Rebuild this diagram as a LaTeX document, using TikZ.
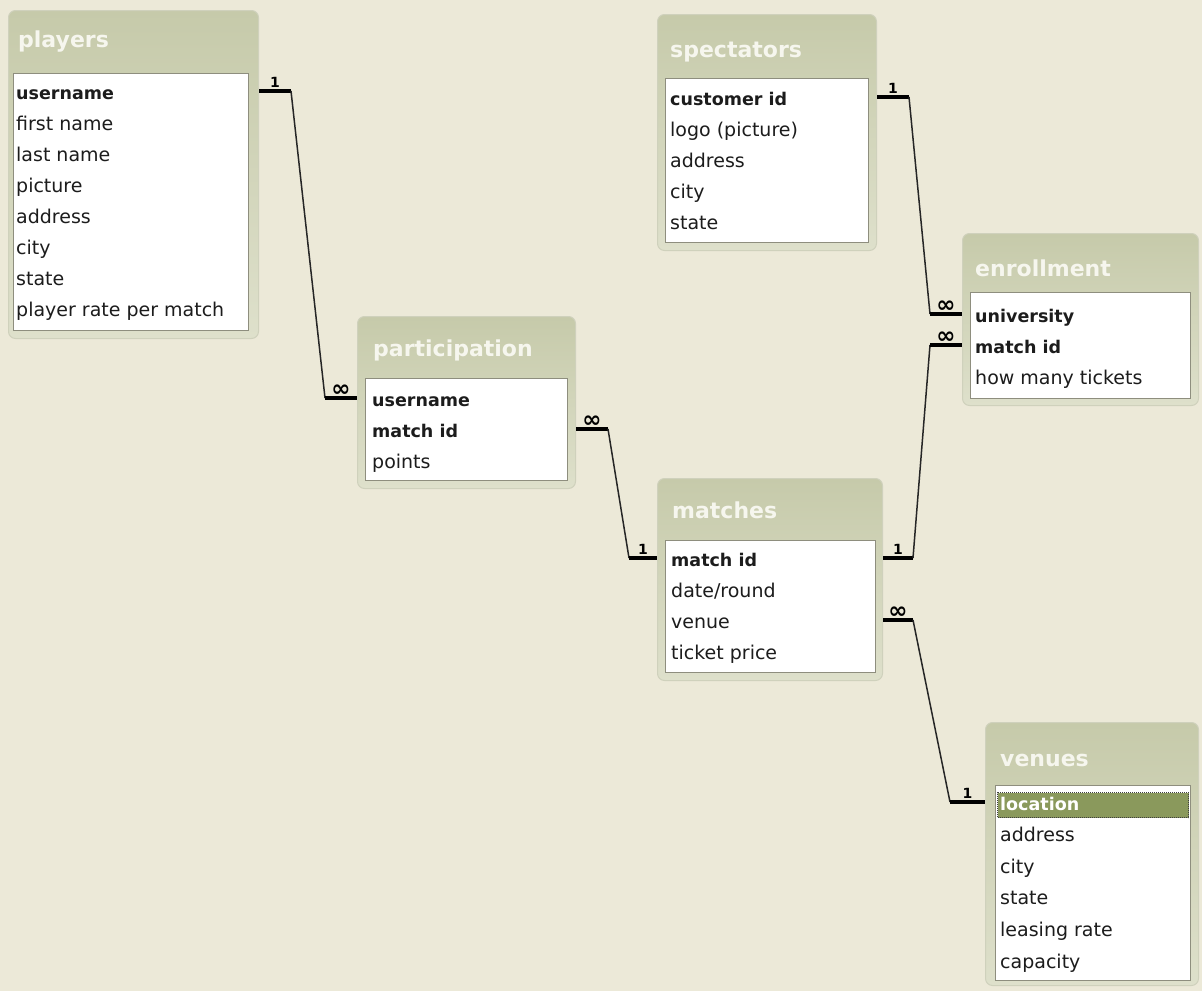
\documentclass[tikz,border=0pt]{standalone}
\usepackage{fontspec}
\setmainfont{DejaVu Sans}
\usepackage{tikz}
\usetikzlibrary{calc}
\usetikzlibrary{positioning}

\definecolor{desk}{HTML}{ECE9D8}
\definecolor{frametop}{HTML}{C6CAAA}
\definecolor{framebot}{HTML}{DEE0CB}
\definecolor{framerim}{HTML}{CFD1BC}
\definecolor{bodyrim}{HTML}{8E8E7E}
\definecolor{titletext}{HTML}{F6F6EE}
\definecolor{fieldtext}{HTML}{1C1C1C}
\definecolor{hilite}{HTML}{8A995C}

\begin{document}
\begin{tikzpicture}[
    x = 1pt, y = -1pt,
    tblframe/.style = {
      draw=framerim, line width=1pt, rounded corners=7pt,
      top color=frametop, bottom color=framebot,
      inner sep=0pt, anchor=north west,
    },
    tblbody/.style = {
      fill=white, draw=bodyrim, line width=1.2pt,
      inner sep=0pt, anchor=north west,
    },
    tbltitle/.style = {
      anchor=west, inner sep=0pt, text=titletext,
      font=\fontsize{22}{24}\selectfont\bfseries,
    },
    fld/.style = {
      anchor=west, inner sep=0pt, text=fieldtext,
      text height=14pt, text depth=4pt,
      font=\fontsize{19}{22}\selectfont,
    },
    keyfld/.style = {fld, font=\fontsize{17.5}{22}\selectfont\bfseries},
    selfld/.style = {keyfld, text=white},
    selbox/.style = {
      fill=hilite, draw=black!75, densely dotted, line width=1pt,
      inner sep=0pt, anchor=north west,
    },
    stub/.style = {line width=3.6pt, black},
    link/.style = {line width=1.5pt, black!85},
    one/.style = {above, inner sep=1.5pt, font=\fontsize{14}{14}\selectfont\bfseries},
    many/.style = {above, inner sep=0pt, font=\fontsize{23}{23}\selectfont\bfseries},
  ]

  % desktop
  \fill[desk] (0,0) rectangle (1202,991);

  % players
  \node[tblframe, minimum width=250pt, minimum height=328pt] (players) at (8,10) {};
  \node[tbltitle] (players-title) at (18,42) {players};
  \node[tblbody, minimum width=235pt, minimum height=257pt] (players-body) at (13,73) {};
  \node[keyfld] (players-1) at (16,94) {username};
  \foreach \f [count=\i from 2] in {first name, last name, picture, address,
      city, state, player rate per match}
    \node[fld] (players-\i) at (16,{94+31*(\i-1)}) {\f};

  % spectators
  \node[tblframe, minimum width=219pt, minimum height=236pt] (spectators) at (657,14) {};
  \node[tbltitle] (spectators-title) at (670,52) {spectators};
  \node[tblbody, minimum width=203pt, minimum height=164pt] (spectators-body) at (665,78) {};
  \node[keyfld] (spectators-1) at (670,100) {customer id};
  \foreach \f [count=\i from 2] in {logo (picture), address, city, state}
    \node[fld] (spectators-\i) at (670,{100+31*(\i-1)}) {\f};

  % enrollment
  \node[tblframe, minimum width=236pt, minimum height=172pt] (enrollment) at (962,233) {};
  \node[tbltitle] (enrollment-title) at (975,268) {enrollment};
  \node[tblbody, minimum width=220pt, minimum height=106pt] (enrollment-body) at (970,292) {};
  \node[keyfld] (enrollment-1) at (975,317) {university};
  \node[keyfld] (enrollment-2) at (975,348) {match id};
  \node[fld] (enrollment-3) at (975,379) {how many tickets};

  % participation
  \node[tblframe, minimum width=218pt, minimum height=172pt] (participation) at (357,316) {};
  \node[tbltitle] (participation-title) at (373,350) {participation};
  \node[tblbody, minimum width=202pt, minimum height=102pt] (participation-body) at (365,378) {};
  \node[keyfld] (participation-1) at (372,401) {username};
  \node[keyfld] (participation-2) at (372,432) {match id};
  \node[fld] (participation-3) at (372,463) {points};

  % matches
  \node[tblframe, minimum width=225pt, minimum height=202pt] (matches) at (657,478) {};
  \node[tbltitle] (matches-title) at (672,510) {matches};
  \node[tblbody, minimum width=210pt, minimum height=132pt] (matches-body) at (665,540) {};
  \node[keyfld] (matches-1) at (671,561) {match id};
  \foreach \f [count=\i from 2] in {date/round, venue, ticket price}
    \node[fld] (matches-\i) at (671,{561+31*(\i-1)}) {\f};

  % venues
  \node[tblframe, minimum width=213pt, minimum height=263pt] (venues) at (985,722) {};
  \node[tbltitle] (venues-title) at (1000,760) {venues};
  \node[tblbody, minimum width=195pt, minimum height=195pt] (venues-body) at (995,785) {};
  \node[selbox, minimum width=191pt, minimum height=25pt] (venues-sel) at (997,792) {};
  \node[selfld] (venues-1) at (1000,805) {location};
  \foreach \f [count=\i from 2] in {address, city, state, leasing rate, capacity}
    \node[fld] (venues-\i) at (1000,{805+31.6*(\i-1)}) {\f};

  % relationships
  \coordinate (r1a) at ($(players.east |- players-1)+(32,-3)$);
  \coordinate (r1b) at ($(participation.west |- participation-1)+(-32,-3)$);
  \draw[stub] ($(players.east |- players-1)+(0,-3)$) -- node[one] (r1-one) {1} (r1a);
  \draw[link] (r1a) -- (r1b);
  \draw[stub] (r1b) -- node[many] (r1-many) {∞} ($(participation.west |- participation-1)+(0,-3)$);

  \coordinate (r2a) at ($(participation.east |- participation-2)+(32,-3)$);
  \coordinate (r2b) at ($(matches.west |- matches-1)+(-28,-3)$);
  \draw[stub] ($(participation.east |- participation-2)+(0,-3)$) -- node[many] (r2-many) {∞} (r2a);
  \draw[link] (r2a) -- (r2b);
  \draw[stub] (r2b) -- node[one] (r2-one) {1} ($(matches.west |- matches-1)+(0,-3)$);

  \coordinate (r3a) at ($(matches.east |- matches-1)+(30,-3)$);
  \coordinate (r3b) at ($(enrollment.west |- enrollment-2)+(-32,-3)$);
  \draw[stub] ($(matches.east |- matches-1)+(0,-3)$) -- node[one] (r3-one) {1} (r3a);
  \draw[link] (r3a) -- (r3b);
  \draw[stub] (r3b) -- node[many] (r3-many) {∞} ($(enrollment.west |- enrollment-2)+(0,-3)$);

  \coordinate (r4a) at ($(spectators.east |- spectators-1)+(32,-3)$);
  \coordinate (r4b) at ($(enrollment.west |- enrollment-1)+(-32,-3)$);
  \draw[stub] ($(spectators.east |- spectators-1)+(0,-3)$) -- node[one] (r4-one) {1} (r4a);
  \draw[link] (r4a) -- (r4b);
  \draw[stub] (r4b) -- node[many] (r4-many) {∞} ($(enrollment.west |- enrollment-1)+(0,-3)$);

  \coordinate (r5a) at ($(matches.east |- matches-3)+(30,-3)$);
  \coordinate (r5b) at ($(venues.west |- venues-1)+(-35,-3)$);
  \draw[stub] ($(matches.east |- matches-3)+(0,-3)$) -- node[many] (r5-many) {∞} (r5a);
  \draw[link] (r5a) -- (r5b);
  \draw[stub] (r5b) -- node[one] (r5-one) {1} ($(venues.west |- venues-1)+(0,-3)$);

\end{tikzpicture}
\end{document}
